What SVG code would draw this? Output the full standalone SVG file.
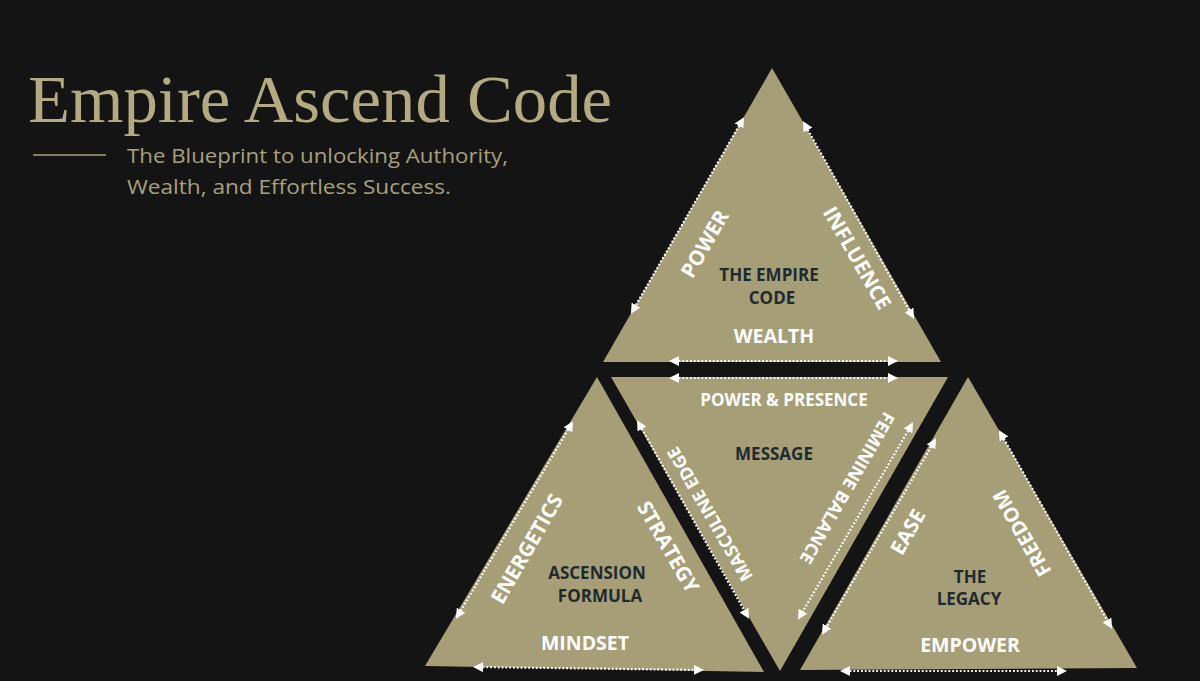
<svg xmlns="http://www.w3.org/2000/svg" width="1200" height="681" viewBox="0 0 1200 681">
  <defs>
    <marker id="ah" viewBox="0 0 10 10" refX="8" refY="5" markerUnits="userSpaceOnUse" markerWidth="10" markerHeight="10" orient="auto-start-reverse">
      <path d="M0,0 L10,5 L0,10 z" fill="#ffffff"/>
    </marker>
  </defs>
  <style>
    .tri { fill: #a69e77; }
    .lbl { font-family: "Open Sans", "Liberation Sans", sans-serif; font-weight: 700; fill: #ffffff; text-anchor: middle; }
    .core { font-family: "Open Sans", "Liberation Sans", sans-serif; font-weight: 700; fill: #1f2a30; text-anchor: middle; font-size: 17px; }
    .arr { stroke: #ffffff; stroke-width: 2.2; stroke-dasharray: 1.8 2; fill: none; marker-start: url(#ah); marker-end: url(#ah); }
    .title { font-family: "Liberation Serif", "DejaVu Serif", serif; fill: #b3aa82; font-size: 67px; }
    .sub { font-family: "Open Sans", "Liberation Sans", sans-serif; fill: #a9a07f; font-size: 20.5px; }
  </style>
  <rect x="0" y="0" width="1200" height="681" fill="#141414"/>

  <g id="header">
    <text class="title" x="28" y="122" textLength="584" lengthAdjust="spacingAndGlyphs">Empire Ascend Code</text>
    <line x1="33" y1="155" x2="106" y2="155" stroke="#a9a07f" stroke-width="1.5"/>
    <text class="sub" x="127" y="163" textLength="381" lengthAdjust="spacingAndGlyphs">The Blueprint to unlocking Authority,</text>
    <text class="sub" x="127" y="194" textLength="324" lengthAdjust="spacingAndGlyphs">Wealth, and Effortless Success.</text>
  </g>

  <g id="empire-code">
    <polygon class="tri" points="772,68 941,362 603,362"/>
    <text class="lbl" font-size="20.5" transform="translate(705,244) rotate(-60)" dy="7">POWER</text>
    <text class="lbl" font-size="20.5" transform="translate(857,258) rotate(60)" dy="7">INFLUENCE</text>
    <text class="core" x="769" y="281">THE EMPIRE</text>
    <text class="core" x="772" y="304">CODE</text>
    <text class="lbl" font-size="19.5" x="774" y="343">WEALTH</text>
  </g>

  <g id="ascension-formula">
    <polygon class="tri" points="597,377 764,672 425,666"/>
    <text class="lbl" font-size="20.5" transform="translate(527,549) rotate(-60)" dy="7">ENERGETICS</text>
    <text class="lbl" font-size="20.5" transform="translate(668,547) rotate(60)" dy="7">STRATEGY</text>
    <text class="core" x="597" y="579">ASCENSION</text>
    <text class="core" x="600" y="602">FORMULA</text>
    <text class="lbl" font-size="19.5" x="585" y="650">MINDSET</text>
  </g>

  <g id="message">
    <polygon class="tri" points="611,377 948,377 780,671"/>
    <text class="lbl" font-size="17" x="784" y="406">POWER &amp; PRESENCE</text>
    <text class="core" x="774" y="460">MESSAGE</text>
    <text class="lbl" font-size="17.5" transform="translate(710,514) rotate(-120)" dy="6">MASCULINE EDGE</text>
    <text class="lbl" font-size="17.5" transform="translate(847,488) rotate(120)" dy="6">FEMININE BALANCE</text>
  </g>

  <g id="legacy">
    <polygon class="tri" points="968,377 1137,668 800,670"/>
    <text class="lbl" font-size="20.5" transform="translate(908,532) rotate(-60)" dy="7">EASE</text>
    <text class="lbl" font-size="20" transform="translate(1022,533) rotate(-120)" dy="7">FREEDOM</text>
    <text class="core" x="970" y="583">THE</text>
    <text class="core" x="969" y="605">LEGACY</text>
    <text class="lbl" font-size="19.5" x="970" y="652">EMPOWER</text>
  </g>

  <g id="connectors">
    <line class="arr" x1="743" y1="119" x2="632" y2="312"/>
    <line class="arr" x1="804" y1="123" x2="913" y2="317"/>
    <line class="arr" x1="671" y1="361" x2="896" y2="361"/>
    <line class="arr" x1="671" y1="378" x2="896" y2="378"/>
    <line class="arr" x1="638" y1="422" x2="748" y2="617"/>
    <line class="arr" x1="912" y1="424" x2="799" y2="618"/>
    <line class="arr" x1="572" y1="423" x2="457" y2="617"/>
    <line class="arr" x1="475" y1="667" x2="702" y2="670"/>
    <line class="arr" x1="935" y1="440" x2="823" y2="633"/>
    <line class="arr" x1="1000" y1="432" x2="1111" y2="627"/>
    <line class="arr" x1="842" y1="671" x2="1065" y2="671"/>
  </g>
</svg>
